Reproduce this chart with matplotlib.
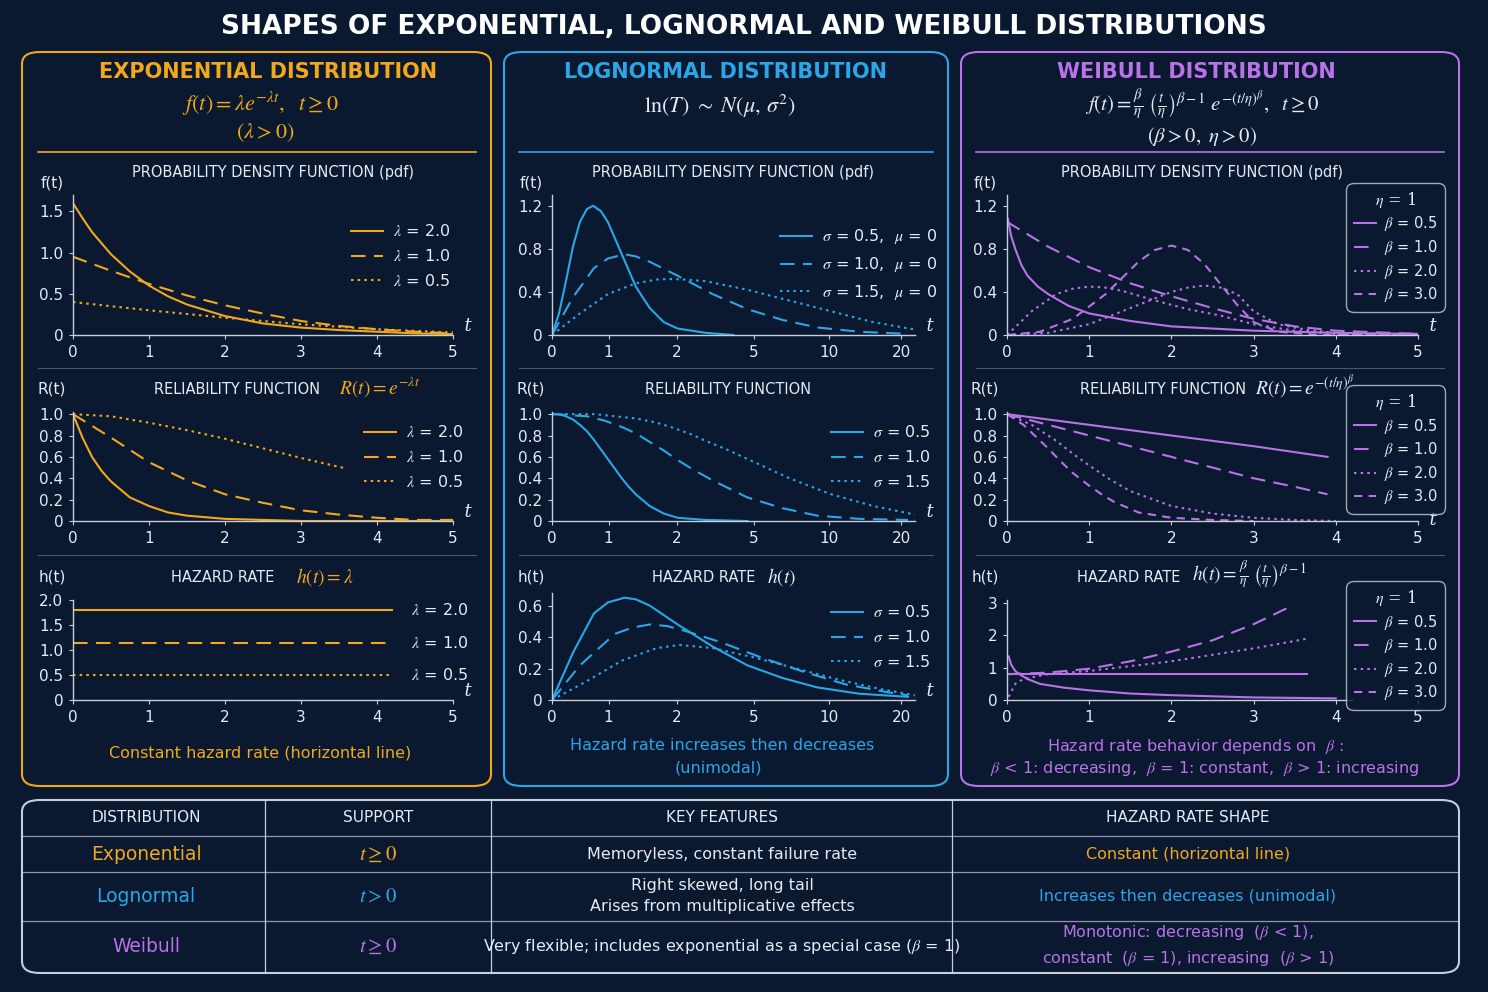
import matplotlib
matplotlib.use("Agg")
import matplotlib.pyplot as plt
from matplotlib.patches import FancyBboxPatch
from matplotlib.lines import Line2D

plt.rcParams['mathtext.fontset'] = 'stix'
plt.rcParams['font.family'] = ['DejaVu Sans']

BG = '#0a1830'
ORANGE = '#f2a81d'
BLUE = '#2aa7e6'
PURPLE = '#b873e6'
TXT = '#e6eaf2'
GRID = '#c8ced8'

# ---------------- DATA ----------------
# Exponential
exp_pdf_l2_x = [0, 0.125, 0.25, 0.5, 0.75, 1, 1.25, 1.5, 2, 2.5, 3, 3.5, 4, 4.5, 5]
exp_pdf_l2_y = [1.6, 1.42, 1.25, 0.98, 0.77, 0.6, 0.47, 0.37, 0.23, 0.14, 0.09, 0.06, 0.04, 0.02, 0.01]
exp_pdf_l1_x = [0, 0.5, 1, 1.5, 2, 2.5, 3, 3.5, 4, 4.5, 5]
exp_pdf_l1_y = [0.95, 0.78, 0.62, 0.48, 0.36, 0.26, 0.17, 0.11, 0.07, 0.04, 0.02]
exp_pdf_l05_x = [0, 1, 2, 3, 4, 5]
exp_pdf_l05_y = [0.4, 0.3, 0.21, 0.13, 0.07, 0.03]
exp_rel_l2_x = [0, 0.125, 0.25, 0.375, 0.5, 0.75, 1, 1.25, 1.5, 2, 2.5, 3, 4, 5]
exp_rel_l2_y = [1, 0.78, 0.6, 0.47, 0.37, 0.22, 0.14, 0.08, 0.05, 0.02, 0.01, 0.0, 0.0, 0.0]
exp_rel_l1_x = [0, 0.5, 1, 1.5, 2, 2.5, 3, 3.5, 4, 4.5, 5]
exp_rel_l1_y = [1, 0.78, 0.55, 0.38, 0.25, 0.17, 0.1, 0.06, 0.03, 0.01, 0.01]
exp_rel_l05_x = [0, 0.5, 1, 1.5, 2, 2.5, 3, 3.6]
exp_rel_l05_y = [1, 0.98, 0.92, 0.85, 0.77, 0.68, 0.59, 0.49]
exp_haz_x = [0, 4.2]
exp_haz_l2 = [1.8, 1.8]
exp_haz_l1 = [1.15, 1.15]
exp_haz_l05 = [0.5, 0.5]
exp_labels = [r'$\lambda$ = 2.0', r'$\lambda$ = 1.0', r'$\lambda$ = 0.5']

# Lognormal (x in axis position units; ticks 0,1,2,5,10,20)
logn_tick_pos = [0, 0.81, 1.79, 2.89, 3.97, 5.0]
logn_tick_lab = ['0', '1', '2', '5', '10', '20']
logn_pdf_s05_x = [0, 0.1, 0.2, 0.3, 0.4, 0.5, 0.59, 0.7, 0.8, 0.9, 1.0, 1.1, 1.2, 1.4, 1.6, 1.8, 2.2, 2.6]
logn_pdf_s05_y = [0, 0.2, 0.5, 0.82, 1.05, 1.17, 1.2, 1.15, 1.05, 0.9, 0.75, 0.6, 0.45, 0.25, 0.12, 0.06, 0.02, 0.0]
logn_pdf_s1_x = [0, 0.3, 0.6, 0.8, 1.04, 1.2, 1.4, 1.8, 2.3, 2.8, 3.3, 3.8, 4.4, 5.1]
logn_pdf_s1_y = [0, 0.35, 0.62, 0.71, 0.75, 0.73, 0.68, 0.55, 0.38, 0.24, 0.14, 0.07, 0.03, 0.01]
logn_pdf_s15_x = [0, 0.4, 0.8, 1.2, 1.5, 1.7, 1.9, 2.2, 2.8, 3.4, 4.0, 4.6, 5.2]
logn_pdf_s15_y = [0, 0.2, 0.38, 0.48, 0.515, 0.52, 0.515, 0.5, 0.42, 0.32, 0.22, 0.12, 0.05]
logn_rel_s05_x = [0, 0.1, 0.2, 0.3, 0.4, 0.5, 0.6, 0.7, 0.8, 0.9, 1.0, 1.1, 1.2, 1.4, 1.6, 1.8, 2.2, 2.8]
logn_rel_s05_y = [1, 1.0, 0.98, 0.95, 0.9, 0.84, 0.76, 0.67, 0.58, 0.49, 0.4, 0.32, 0.25, 0.14, 0.07, 0.03, 0.01, 0.0]
logn_rel_s1_x = [0, 0.5, 0.75, 1.0, 1.2, 1.4, 1.6, 1.8, 2.0, 2.3, 2.8, 3.3, 3.8, 4.4, 5.1]
logn_rel_s1_y = [1, 0.98, 0.94, 0.88, 0.82, 0.74, 0.66, 0.57, 0.49, 0.38, 0.22, 0.12, 0.05, 0.02, 0.01]
logn_rel_s15_x = [0, 0.6, 1.2, 1.5, 1.7, 2.0, 2.2, 2.5, 2.8, 3.1, 3.4, 4.0, 4.6, 5.2]
logn_rel_s15_y = [1, 1.0, 0.96, 0.92, 0.88, 0.81, 0.75, 0.67, 0.58, 0.49, 0.4, 0.25, 0.14, 0.06]
logn_haz_s05_x = [0, 0.3, 0.6, 0.8, 1.04, 1.2, 1.4, 1.8, 2.3, 2.8, 3.3, 3.8, 4.4, 5.1]
logn_haz_s05_y = [0, 0.3, 0.55, 0.62, 0.65, 0.64, 0.6, 0.48, 0.34, 0.22, 0.14, 0.08, 0.04, 0.02]
logn_haz_s1_x = [0, 0.4, 0.9, 1.15, 1.4, 1.65, 1.9, 2.4, 3.0, 3.6, 4.2, 4.8, 5.1]
logn_haz_s1_y = [0, 0.22, 0.42, 0.46, 0.48, 0.47, 0.44, 0.37, 0.27, 0.18, 0.1, 0.05, 0.03]
logn_haz_s15_x = [0, 0.5, 1.0, 1.5, 1.83, 2.3, 2.9, 3.5, 4.1, 4.7, 5.2]
logn_haz_s15_y = [0, 0.12, 0.25, 0.33, 0.35, 0.33, 0.27, 0.2, 0.13, 0.07, 0.03]

# Weibull
wb_pdf_b05_x = [0.01, 0.05, 0.1, 0.175, 0.25, 0.375, 0.5, 0.75, 1, 1.5, 2, 3, 4, 5]
wb_pdf_b05_y = [1.08, 0.92, 0.8, 0.65, 0.55, 0.45, 0.38, 0.27, 0.2, 0.13, 0.08, 0.04, 0.02, 0.01]
wb_pdf_b1_x = [0, 0.5, 1, 1.5, 2, 2.5, 3, 3.5, 4, 5]
wb_pdf_b1_y = [1.05, 0.82, 0.63, 0.48, 0.36, 0.25, 0.15, 0.08, 0.04, 0.01]
wb_pdf_b2_x = [0, 0.3, 0.6, 0.8, 1.0, 1.2, 1.4, 1.8, 2.2, 2.6, 3.0, 3.5, 4.0, 5.0]
wb_pdf_b2_y = [0, 0.22, 0.38, 0.43, 0.45, 0.44, 0.41, 0.32, 0.24, 0.18, 0.1, 0.04, 0.01, 0.0]
wb_pdf_b2b_x = [0, 0.5, 1.0, 1.5, 2.0, 2.2, 2.4, 2.6, 2.8, 3.0, 3.3, 3.7, 4.2, 5.0]
wb_pdf_b2b_y = [0, 0.02, 0.1, 0.25, 0.4, 0.44, 0.46, 0.44, 0.38, 0.22, 0.1, 0.04, 0.01, 0.0]
wb_pdf_b3_x = [0, 0.4, 0.8, 1.2, 1.4, 1.6, 1.8, 2.0, 2.2, 2.4, 2.6, 2.8, 3.0, 3.3, 3.8, 5.0]
wb_pdf_b3_y = [0, 0.03, 0.15, 0.38, 0.53, 0.68, 0.79, 0.83, 0.79, 0.66, 0.47, 0.28, 0.12, 0.03, 0.0, 0.0]
wb_rel_b05_x = [0, 1, 2, 3, 3.9]
wb_rel_b05_y = [1, 0.9, 0.8, 0.7, 0.6]
wb_rel_b1_x = [0, 0.5, 1, 1.5, 2, 2.5, 3, 3.5, 3.9]
wb_rel_b1_y = [1, 0.9, 0.8, 0.7, 0.6, 0.5, 0.4, 0.32, 0.25]
wb_rel_b2_x = [0, 0.3, 0.6, 0.8, 1, 1.25, 1.5, 2, 2.5, 3, 3.5, 4]
wb_rel_b2_y = [1, 0.9, 0.75, 0.63, 0.52, 0.39, 0.28, 0.14, 0.07, 0.03, 0.01, 0.0]
wb_rel_b3_x = [0, 0.2, 0.35, 0.5, 0.65, 0.8, 1, 1.15, 1.3, 1.6, 2, 2.5, 3]
wb_rel_b3_y = [1, 0.9, 0.79, 0.68, 0.56, 0.45, 0.33, 0.25, 0.18, 0.08, 0.03, 0.01, 0.0]
wb_haz_b05_x = [0.02, 0.05, 0.1, 0.15, 0.25, 0.4, 0.7, 1, 1.5, 2, 3, 4]
wb_haz_b05_y = [1.35, 1.1, 0.9, 0.8, 0.65, 0.5, 0.38, 0.3, 0.2, 0.15, 0.08, 0.05]
wb_haz_b1_x = [0, 3.65]
wb_haz_b1_y = [0.8, 0.8]
wb_haz_b2_x = [0.02, 0.1, 0.2, 0.5, 1, 1.5, 2, 2.5, 3, 3.65]
wb_haz_b2_y = [0.1, 0.5, 0.65, 0.8, 0.9, 1.05, 1.2, 1.4, 1.6, 1.9]
wb_haz_b3_x = [0, 0.5, 1, 1.5, 2, 2.5, 3, 3.45]
wb_haz_b3_y = [0.8, 0.85, 0.97, 1.2, 1.5, 1.85, 2.35, 2.9]
wb_labels = [r'$\beta$ = 0.5', r'$\beta$ = 1.0', r'$\beta$ = 2.0', r'$\beta$ = 3.0']

table_header = ['DISTRIBUTION', 'SUPPORT', 'KEY FEATURES', 'HAZARD RATE SHAPE']
table_names = ['Exponential', 'Lognormal', 'Weibull']
table_support = [r'$t\geq 0$', r'$t>0$', r'$t\geq 0$']
table_features = ['Memoryless, constant failure rate',
                  'Right skewed, long tail\nArises from multiplicative effects',
                  r'Very flexible; includes exponential as a special case ($\beta$ = 1)']
table_hazard = ['Constant (horizontal line)', 'Increases then decreases (unimodal)',
                'Monotonic: decreasing  ($\\beta$ < 1),\nconstant  ($\\beta$ = 1), increasing  ($\\beta$ > 1)']

# ---------------- FIGURE ----------------
W, H = 1488, 992
fig = plt.figure(figsize=(14.88, 9.92), dpi=100, facecolor=BG)

def fx(px): return px / W
def fy(py): return 1 - py / H

def box(x0, y0, x1, y1, color):
    p = FancyBboxPatch((fx(x0), fy(y1)), fx(x1) - fx(x0), fy(y0) - fy(y1),
                       boxstyle="round,pad=0,rounding_size=0.012", transform=fig.transFigure,
                       fill=False, edgecolor=color, linewidth=1.5)
    fig.add_artist(p)

def hline(x0, x1, y, color, lw=1.0, alpha=1.0):
    fig.add_artist(Line2D([fx(x0), fx(x1)], [fy(y), fy(y)], transform=fig.transFigure,
                          color=color, lw=lw, alpha=alpha))

def vline(x, y0, y1, color, lw=1.0):
    fig.add_artist(Line2D([fx(x), fx(x)], [fy(y0), fy(y1)], transform=fig.transFigure, color=color, lw=lw))

def text(x, y, s, **kw):
    kw.setdefault('color', TXT)
    kw.setdefault('ha', 'center')
    kw.setdefault('va', 'center')
    fig.text(fx(x), fy(y), s, **kw)

text(744, 27, 'SHAPES OF EXPONENTIAL, LOGNORMAL AND WEIBULL DISTRIBUTIONS', fontsize=19, weight='bold', color='white')

box(22, 52, 491, 786, ORANGE)
box(504, 52, 948, 786, BLUE)
box(961, 52, 1459, 786, PURPLE)

text(268, 72, 'EXPONENTIAL DISTRIBUTION', fontsize=15, weight='bold', color=ORANGE)
text(260, 104, r'$f(t)=\lambda e^{-\lambda t},\ \ t\geq 0$', fontsize=16, color=ORANGE)
text(265, 133, r'$(\lambda>0)$', fontsize=16, color=ORANGE)
text(726, 72, 'LOGNORMAL DISTRIBUTION', fontsize=15, weight='bold', color=BLUE)
text(720, 106, r'$\mathrm{ln}(T)\ \sim\ N(\mu,\,\sigma^2)$', fontsize=16, color=TXT)
text(1196, 72, 'WEIBULL DISTRIBUTION', fontsize=15, weight='bold', color=PURPLE)
text(1202, 105, r'$f(t)=\frac{\beta}{\eta}\ \left(\frac{t}{\eta}\right)^{\beta-1}\ e^{-(t/\eta)^{\beta}},\ \ t\geq 0$', fontsize=15, color=TXT)
text(1202, 137, r'$(\beta>0,\ \eta>0)$', fontsize=15, color=TXT)

hline(38, 476, 152, ORANGE, 1.2)
hline(519, 933, 152, BLUE, 1.2)
hline(976, 1444, 152, PURPLE, 1.2)
for (a, b) in [(38, 476), (519, 933), (976, 1444)]:
    hline(a, b, 368, GRID, 0.8, 0.35)
    hline(a, b, 555, GRID, 0.8, 0.35)

def make_ax(x0, x1, y0, y1, xlim, ylim, yticks, yticklabels, xticks, xticklabels, tlabel=True, ty=0.0):
    ax = fig.add_axes([fx(x0), fy(y1), fx(x1) - fx(x0), fy(y0) - fy(y1)])
    ax.set_facecolor('none')
    for s in ['top', 'right']:
        ax.spines[s].set_visible(False)
    for s in ['left', 'bottom']:
        ax.spines[s].set_color(GRID)
        ax.spines[s].set_linewidth(1.0)
    ax.set_xlim(*xlim)
    ax.set_ylim(*ylim)
    ax.set_yticks(yticks)
    ax.set_yticklabels(yticklabels)
    ax.set_xticks(xticks)
    ax.set_xticklabels(xticklabels)
    ax.tick_params(colors=GRID, labelcolor=TXT, labelsize=11, length=3, width=0.8, pad=4)
    if tlabel:
        ax.text(1.0, ty, '  t', transform=ax.transAxes, fontsize=13, color=TXT, ha='left', va='bottom',
                fontfamily='serif', style='italic')
    return ax

def leg(ax, handles, labels, loc, bbox, frame=False, title=None, figpx=None):
    kw = {}
    if figpx is not None:
        bbox = (fx(figpx[0]), fy(figpx[1]))
        kw['bbox_transform'] = fig.transFigure
    lg = ax.legend(handles, labels, loc=loc, bbox_to_anchor=bbox, frameon=frame,
                   labelcolor=TXT, handlelength=1.5 if frame else 2.0, handletextpad=0.6,
                   labelspacing=0.32 if frame else 0.55,
                   title=title, borderpad=0.4, borderaxespad=0,
                   prop={'family': 'DejaVu Sans', 'size': 10.5 if frame else 11.5}, **kw)
    if frame:
        lg.get_frame().set_facecolor(BG)
        lg.get_frame().set_edgecolor(GRID)
        lg.get_frame().set_linewidth(1.0)
        lg.get_frame().set_boxstyle('round,pad=0.1,rounding_size=0.5')
    if title:
        lg.get_title().set_color(TXT)
        lg.get_title().set_fontsize(11.5)
        lg.get_title().set_fontfamily('serif')
    return lg

SOL = '-'
DAS = (0, (7, 4))
DOT = (0, (1.2, 2))
DD2 = (0, (4, 3))
LW = 1.5

# ---- Exponential
xt5 = [0, 1, 2, 3, 4, 5]
xl5 = ['0', '1', '2', '3', '4', '5']
ax = make_ax(73, 453, 195, 335, (0, 5), (0, 1.7), [0, 0.5, 1.0, 1.5], ['0', '0.5', '1.0', '1.5'], xt5, xl5)
h1, = ax.plot(exp_pdf_l2_x, exp_pdf_l2_y, color=ORANGE, ls=SOL, lw=LW)
h2, = ax.plot(exp_pdf_l1_x, exp_pdf_l1_y, color=ORANGE, ls=DAS, lw=LW)
h3, = ax.plot(exp_pdf_l05_x, exp_pdf_l05_y, color=ORANGE, ls=DOT, lw=LW)
leg(ax, [h1, h2, h3], exp_labels, 'upper left', None, figpx=(345, 217))
text(273, 172, 'PROBABILITY DENSITY FUNCTION (pdf)', fontsize=10.5)
text(52, 183, 'f(t)', fontsize=11)

ax = make_ax(73, 453, 412, 521, (0, 5), (0, 1.02), [0, 0.2, 0.4, 0.6, 0.8, 1.0], ['0', '0.2', '0.4', '0.6', '0.8', '1.0'], xt5, xl5)
h1, = ax.plot(exp_rel_l2_x, exp_rel_l2_y, color=ORANGE, ls=SOL, lw=LW)
h2, = ax.plot(exp_rel_l1_x, exp_rel_l1_y, color=ORANGE, ls=DAS, lw=LW)
h3, = ax.plot(exp_rel_l05_x, exp_rel_l05_y, color=ORANGE, ls=DOT, lw=LW)
leg(ax, [h1, h2, h3], exp_labels, 'upper left', None, figpx=(358, 418))
text(237, 389, 'RELIABILITY FUNCTION', fontsize=10.5)
text(380, 387, r'$R(t)=e^{-\lambda t}$', fontsize=14, color=ORANGE)
text(52, 389, 'R(t)', fontsize=11)

ax = make_ax(73, 453, 600, 700, (0, 5), (0, 2.0), [0, 0.5, 1.0, 1.5, 2.0], ['0', '0.5', '1.0', '1.5', '2.0'], xt5, xl5)
h1, = ax.plot(exp_haz_x, exp_haz_l2, color=ORANGE, ls=SOL, lw=LW)
h2, = ax.plot(exp_haz_x, exp_haz_l1, color=ORANGE, ls=DAS, lw=LW)
h3, = ax.plot(exp_haz_x, exp_haz_l05, color=ORANGE, ls=DOT, lw=LW)
for yv, lab in zip([exp_haz_l2[0], exp_haz_l1[0], exp_haz_l05[0]], exp_labels):
    ax.text(4.45, yv, lab, color=TXT, fontsize=11.5, va='center', ha='left')
text(223, 577, 'HAZARD RATE', fontsize=10.5)
text(325, 577, r'$h(t)=\lambda$', fontsize=14, color=ORANGE)
text(52, 577, 'h(t)', fontsize=11)
text(260, 753, 'Constant hazard rate (horizontal line)', fontsize=11.5, color=ORANGE)

# ---- Lognormal
logn_labels_pdf = [r'$\sigma$ = 0.5,  $\mu$ = 0', r'$\sigma$ = 1.0,  $\mu$ = 0', r'$\sigma$ = 1.5,  $\mu$ = 0']
logn_labels = [r'$\sigma$ = 0.5', r'$\sigma$ = 1.0', r'$\sigma$ = 1.5']
ax = make_ax(552, 915, 195, 335, (0, 5.2), (0, 1.3), [0, 0.4, 0.8, 1.2], ['0', '0.4', '0.8', '1.2'], logn_tick_pos, logn_tick_lab)
h1, = ax.plot(logn_pdf_s05_x, logn_pdf_s05_y, color=BLUE, ls=SOL, lw=LW)
h2, = ax.plot(logn_pdf_s1_x, logn_pdf_s1_y, color=BLUE, ls=DAS, lw=LW)
h3, = ax.plot(logn_pdf_s15_x, logn_pdf_s15_y, color=BLUE, ls=DOT, lw=LW)
leg(ax, [h1, h2, h3], logn_labels_pdf, 'upper left', None, figpx=(774, 221))
text(733, 172, 'PROBABILITY DENSITY FUNCTION (pdf)', fontsize=10.5)
text(531, 183, 'f(t)', fontsize=11)

ax = make_ax(552, 915, 412, 521, (0, 5.2), (0, 1.02), [0, 0.2, 0.4, 0.6, 0.8, 1.0], ['0', '0.2', '0.4', '0.6', '0.8', '1.0'], logn_tick_pos, logn_tick_lab)
h1, = ax.plot(logn_rel_s05_x, logn_rel_s05_y, color=BLUE, ls=SOL, lw=LW)
h2, = ax.plot(logn_rel_s1_x, logn_rel_s1_y, color=BLUE, ls=DAS, lw=LW)
h3, = ax.plot(logn_rel_s15_x, logn_rel_s15_y, color=BLUE, ls=DOT, lw=LW)
leg(ax, [h1, h2, h3], logn_labels, 'upper left', None, figpx=(825, 418))
text(728, 389, 'RELIABILITY FUNCTION', fontsize=10.5)
text(531, 389, 'R(t)', fontsize=11)

ax = make_ax(552, 915, 593, 700, (0, 5.2), (0, 0.68), [0, 0.2, 0.4, 0.6], ['0', '0.2', '0.4', '0.6'], logn_tick_pos, logn_tick_lab)
h1, = ax.plot(logn_haz_s05_x, logn_haz_s05_y, color=BLUE, ls=SOL, lw=LW)
h2, = ax.plot(logn_haz_s1_x, logn_haz_s1_y, color=BLUE, ls=DAS, lw=LW)
h3, = ax.plot(logn_haz_s15_x, logn_haz_s15_y, color=BLUE, ls=DOT, lw=LW)
leg(ax, [h1, h2, h3], logn_labels, 'upper left', None, figpx=(825, 598))
text(704, 577, 'HAZARD RATE', fontsize=10.5)
text(782, 577, r'$h(t)$', fontsize=14, color=TXT)
text(531, 577, 'h(t)', fontsize=11)
text(722, 746, 'Hazard rate increases then decreases', fontsize=11.5, color=BLUE)
text(718, 768, '(unimodal)', fontsize=11.5, color=BLUE)

# ---- Weibull
ax = make_ax(1007, 1418, 195, 335, (0, 5), (0, 1.3), [0, 0.4, 0.8, 1.2], ['0', '0.4', '0.8', '1.2'], xt5, xl5)
h1, = ax.plot(wb_pdf_b05_x, wb_pdf_b05_y, color=PURPLE, ls=SOL, lw=LW)
h2, = ax.plot(wb_pdf_b1_x, wb_pdf_b1_y, color=PURPLE, ls=DAS, lw=LW)
h3, = ax.plot(wb_pdf_b2_x, wb_pdf_b2_y, color=PURPLE, ls=DOT, lw=LW)
ax.plot(wb_pdf_b2b_x, wb_pdf_b2b_y, color=PURPLE, ls=DOT, lw=LW)
h4, = ax.plot(wb_pdf_b3_x, wb_pdf_b3_y, color=PURPLE, ls=DD2, lw=LW)
leg(ax, [h1, h2, h3, h4], wb_labels, 'upper right', None, frame=True, title=r'$\eta$ = 1', figpx=(1444, 184))
text(1202, 172, 'PROBABILITY DENSITY FUNCTION (pdf)', fontsize=10.5)
text(985, 183, 'f(t)', fontsize=11)

ax = make_ax(1007, 1418, 412, 521, (0, 5), (0, 1.02), [0, 0.2, 0.4, 0.6, 0.8, 1.0], ['0', '0.2', '0.4', '0.6', '0.8', '1.0'], xt5, xl5, ty=-0.07)
h1, = ax.plot(wb_rel_b05_x, wb_rel_b05_y, color=PURPLE, ls=SOL, lw=LW)
h2, = ax.plot(wb_rel_b1_x, wb_rel_b1_y, color=PURPLE, ls=DAS, lw=LW)
h3, = ax.plot(wb_rel_b2_x, wb_rel_b2_y, color=PURPLE, ls=DOT, lw=LW)
h4, = ax.plot(wb_rel_b3_x, wb_rel_b3_y, color=PURPLE, ls=DD2, lw=LW)
leg(ax, [h1, h2, h3, h4], wb_labels, 'upper right', None, frame=True, title=r'$\eta$ = 1', figpx=(1444, 386))
text(1163, 389, 'RELIABILITY FUNCTION', fontsize=10.5)
text(1305, 387, r'$R(t)=e^{-(t/\eta)^{\beta}}$', fontsize=14, color=TXT)
text(985, 389, 'R(t)', fontsize=11)

ax = make_ax(1007, 1418, 600, 700, (0, 5), (0, 3.1), [0, 1, 2, 3], ['0', '1', '2', '3'], xt5, xl5, tlabel=False)
ax.spines['bottom'].set_bounds(0, 4.2)
h1, = ax.plot(wb_haz_b05_x, wb_haz_b05_y, color=PURPLE, ls=SOL, lw=LW)
h2, = ax.plot(wb_haz_b1_x, wb_haz_b1_y, color=PURPLE, ls=SOL, lw=LW)
h3, = ax.plot(wb_haz_b2_x, wb_haz_b2_y, color=PURPLE, ls=DOT, lw=LW)
h4, = ax.plot(wb_haz_b3_x, wb_haz_b3_y, color=PURPLE, ls=DAS, lw=LW)
leg(ax, [h1, Line2D([], [], color=PURPLE, ls=DAS, lw=LW), h3, Line2D([], [], color=PURPLE, ls=DD2, lw=LW)],
    wb_labels, 'upper right', None, frame=True, title=r'$\eta$ = 1', figpx=(1444, 582))
text(1129, 577, 'HAZARD RATE', fontsize=10.5)
text(1250, 575, r'$h(t)=\frac{\beta}{\eta}\ \left(\frac{t}{\eta}\right)^{\beta-1}$', fontsize=14, color=TXT)
text(985, 577, 'h(t)', fontsize=11)
text(1196, 746, r'Hazard rate behavior depends on  $\beta$ :', fontsize=11.5, color=PURPLE)
text(1205, 768, r'$\beta$ < 1: decreasing,  $\beta$ = 1: constant,  $\beta$ > 1: increasing', fontsize=11.5, color=PURPLE)

# ---- Table
box(22, 800, 1459, 973, GRID)
for yy in [836, 872, 921]:
    hline(22, 1459, yy, GRID, 0.9, 0.7)
for xx in [265, 491, 952]:
    vline(xx, 800, 973, GRID, 0.9)
col_c = [146, 378, 722, 1188]
for c, h in zip(col_c, table_header):
    text(c, 818, h, fontsize=11)
row_c = [854, 896, 946]
cols = [ORANGE, BLUE, PURPLE]
for i in range(3):
    text(col_c[0], row_c[i], table_names[i], fontsize=13.5, color=cols[i])
    text(col_c[1], row_c[i], table_support[i], fontsize=15, color=cols[i])
    text(col_c[2], row_c[i], table_features[i], fontsize=11.5, linespacing=1.5)
    text(col_c[3], row_c[i], table_hazard[i], fontsize=11.5, color=cols[i], linespacing=1.5)

fig.savefig('out.png', dpi=100, facecolor=BG)
